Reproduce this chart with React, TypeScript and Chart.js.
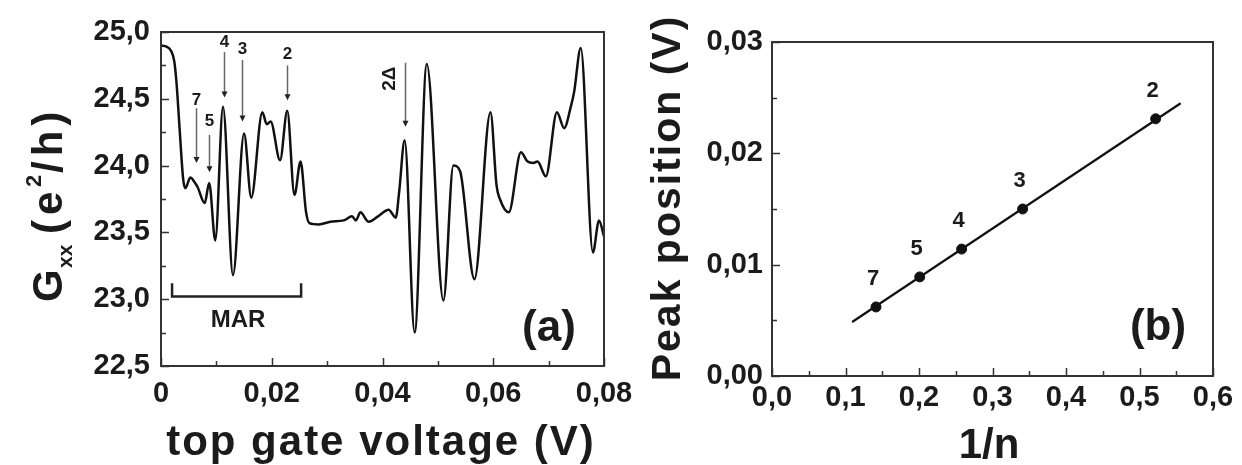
import React, { useEffect, useRef } from 'react';
import { Chart, registerables } from 'chart.js';

Chart.register(...registerables);

// ---------- Panel (a): conductance vs top gate voltage ----------
const voltage = [
  0, 0.0010, 0.0018, 0.0024, 0.0028, 0.0034, 0.0040, 0.0044,
  0.0053, 0.0060, 0.0066, 0.0079, 0.0087, 0.0098, 0.0112, 0.0130,
  0.0150, 0.0163, 0.0183, 0.0191, 0.0198, 0.0215, 0.0228, 0.0241,
  0.0252, 0.0262, 0.0268, 0.0285, 0.0306, 0.0330, 0.0345, 0.0352,
  0.0360, 0.0375, 0.0392, 0.0411, 0.0424, 0.0430, 0.0440, 0.0458,
  0.0480, 0.0510, 0.0528, 0.0540, 0.0566, 0.0595, 0.0606, 0.0612,
  0.0628, 0.0650, 0.0662, 0.0672, 0.0680, 0.0695, 0.0715, 0.0728,
  0.0740, 0.0746, 0.0758, 0.0780, 0.0791, 0.0800,
];
const conductance = [
  24.90, 24.89, 24.86, 24.78, 24.62, 24.25, 23.90, 23.83,
  23.91, 23.88, 23.84, 23.72, 23.87, 23.44, 24.44, 23.18,
  24.24, 23.76, 24.40, 24.31, 24.33, 24.04, 24.41, 23.78,
  24.03, 23.65, 23.57, 23.56, 23.58, 23.59, 23.62, 23.59,
  23.65, 23.58, 23.62, 23.67, 23.61, 23.80, 24.19, 22.75,
  24.76, 22.99, 24.00, 23.96, 23.15, 24.40, 23.85, 23.75,
  23.65, 24.10, 24.03, 24.02, 24.03, 23.92, 24.40, 24.28,
  24.44, 24.55, 24.88, 23.35, 23.59, 23.47,
];
const xTicksA = [0, 0.02, 0.04, 0.06, 0.08];
const xTickLabelsA = ['0', '0,02', '0,04', '0,06', '0,08'];
const xMinorA = [0.01, 0.03, 0.05, 0.07];
const yTicksA = [22.5, 23.0, 23.5, 24.0, 24.5, 25.0];
const yTickLabelsA = ['22,5', '23,0', '23,5', '24,0', '24,5', '25,0'];
const yMinorA = [22.75, 23.25, 23.75, 24.25, 24.75];

// MAR peak markers (label n, position, arrow top, arrow tip, label height)
const arrowLabels = ['7', '5', '4', '3', '2'];
const arrowX = [0.0063, 0.0087, 0.0113, 0.0147, 0.0228];
const arrowTop = [24.43, 24.23, 24.85, 24.79, 24.75];
const arrowTip = [24.02, 23.95, 24.51, 24.33, 24.49];
const arrowLabelY = [24.49, 24.33, 24.92, 24.87, 24.83];
const gapLabel = '2Δ';
const gapX = 0.0440;
const gapTop = 24.77;
const gapTip = 24.29;
const gapLabelX = 0.0413;
const gapLabelY = 24.65;
const marStart = 0.0020;
const marEnd = 0.0253;
const marLevel = 23.02;
const marTickTop = 23.12;
const marTextX = 0.0139;
const marTextY = 22.84;

// ---------- Panel (b): peak position vs 1/n ----------
const invN = [0.1415, 0.201, 0.258, 0.341, 0.522];
const peakPos = [0.0062, 0.0089, 0.0114, 0.0150, 0.0231];
const peakN = ['7', '5', '4', '3', '2'];
const fitX = [0.109, 0.556];
const fitY = [0.00485, 0.0245];
const xTicksB = [0, 0.1, 0.2, 0.3, 0.4, 0.5, 0.6];
const xTickLabelsB = ['0,0', '0,1', '0,2', '0,3', '0,4', '0,5', '0,6'];
const xMinorB = [0.05, 0.15, 0.25, 0.35, 0.45, 0.55];
const yTicksB = [0, 0.01, 0.02, 0.03];
const yTickLabelsB = ['0,00', '0,01', '0,02', '0,03'];
const yMinorB = [0.005, 0.015, 0.025];

const FONT = "'Liberation Sans', Arial, Helvetica, sans-serif";
const INK = '#1b1b1b';
const FRAME = '#333333';
const SPLIT = 645; // page x where the second canvas begins

function drawFrameAndTicks(chart: any, xMaj: number[], xMin: number[], yMaj: number[], yMin: number[]) {
  const { ctx, chartArea: a, scales } = chart;
  ctx.save();
  ctx.strokeStyle = FRAME;
  ctx.lineWidth = 2;
  ctx.strokeRect(a.left, a.top, a.right - a.left, a.bottom - a.top);
  ctx.lineWidth = 1.5;
  ctx.beginPath();
  const xs = (vals: number[], len: number) => vals.forEach((v) => {
    const p = Math.round(scales.x.getPixelForValue(v)) + 0.5;
    ctx.moveTo(p, a.bottom); ctx.lineTo(p, a.bottom - len);
  });
  const ys = (vals: number[], len: number) => vals.forEach((v) => {
    const p = Math.round(scales.y.getPixelForValue(v)) + 0.5;
    ctx.moveTo(a.left, p); ctx.lineTo(a.left + len, p);
  });
  xs(xMaj, 8); xs(xMin, 5); ys(yMaj, 8); ys(yMin, 5);
  ctx.stroke();
  ctx.restore();
}

function drawRotated(ctx: any, baseX: number, startY: number, segs: { t: string; size: number; shift: number; at: number; sp: number }[]) {
  ctx.save();
  ctx.translate(baseX, startY);
  ctx.rotate(-Math.PI / 2);
  ctx.fillStyle = INK;
  ctx.textBaseline = 'alphabetic';
  ctx.textAlign = 'left';
  segs.forEach((s) => {
    ctx.letterSpacing = `${s.sp}px`;
    ctx.font = `bold ${s.size}px ${FONT}`;
    ctx.fillText(s.t, s.at, s.shift);
  });
  ctx.letterSpacing = '0px';
  ctx.restore();
}

function arrow(ctx: any, x: number, y1: number, y2: number) {
  ctx.save();
  ctx.strokeStyle = '#666';
  ctx.lineWidth = 1.5;
  ctx.beginPath();
  ctx.moveTo(x, y1);
  ctx.lineTo(x, y2 - 4);
  ctx.stroke();
  ctx.fillStyle = '#222';
  ctx.beginPath();
  ctx.moveTo(x - 3, y2 - 6);
  ctx.lineTo(x + 3, y2 - 6);
  ctx.lineTo(x, y2);
  ctx.closePath();
  ctx.fill();
  ctx.restore();
}

const panelAPlugin = {
  id: 'panelA',
  afterDraw(chart: any) {
    const { ctx, chartArea: a, scales } = chart;
    const X = (v: number) => scales.x.getPixelForValue(v);
    const Y = (v: number) => scales.y.getPixelForValue(v);
    drawFrameAndTicks(chart, xTicksA, xMinorA, yTicksA, yMinorA);

    ctx.save();
    arrowLabels.forEach((lab, i) => {
      const x = Math.round(X(arrowX[i])) + 0.5;
      arrow(ctx, x, Y(arrowTop[i]), Y(arrowTip[i]));
      ctx.fillStyle = INK;
      ctx.font = `bold 17px ${FONT}`;
      ctx.textAlign = 'center';
      ctx.textBaseline = 'middle';
      ctx.fillText(lab, x, Y(arrowLabelY[i]));
    });
    const gx = Math.round(X(gapX)) + 0.5;
    arrow(ctx, gx, Y(gapTop), Y(gapTip));
    ctx.save();
    ctx.translate(X(gapLabelX), Y(gapLabelY));
    ctx.rotate(-Math.PI / 2);
    ctx.fillStyle = INK;
    ctx.font = `bold 19px ${FONT}`;
    ctx.textAlign = 'center';
    ctx.textBaseline = 'middle';
    ctx.fillText(gapLabel, 0, 0);
    ctx.restore();

    // MAR bracket
    ctx.strokeStyle = '#222';
    ctx.lineWidth = 2.5;
    ctx.beginPath();
    ctx.moveTo(X(marStart), Y(marTickTop));
    ctx.lineTo(X(marStart), Y(marLevel));
    ctx.lineTo(X(marEnd), Y(marLevel));
    ctx.lineTo(X(marEnd), Y(marTickTop));
    ctx.stroke();
    ctx.fillStyle = INK;
    ctx.font = `bold 24px ${FONT}`;
    ctx.textAlign = 'center';
    ctx.textBaseline = 'middle';
    ctx.fillText('MAR', X(marTextX), Y(marTextY));

    ctx.font = `bold 44px ${FONT}`;
    ctx.fillText('(a)', a.right - 55, a.bottom - 37);

    ctx.letterSpacing = '2px';
    ctx.font = `bold 42px ${FONT}`;
    ctx.textBaseline = 'alphabetic';
    ctx.fillText('top gate voltage (V)', 381, 455);
    ctx.letterSpacing = '0px';
    ctx.restore();

    drawRotated(ctx, 62, 302, [
      { t: 'G', size: 42, shift: 0, at: 0, sp: 0 },
      { t: 'xx', size: 21, shift: 10, at: 34, sp: 0 },
      { t: '(e', size: 42, shift: 0, at: 68, sp: 5 },
      { t: '2', size: 22, shift: -21, at: 115, sp: 0 },
      { t: '/h)', size: 42, shift: 0, at: 129, sp: 5 },
    ]);
  },
};

const panelBPlugin = {
  id: 'panelB',
  afterDraw(chart: any) {
    const { ctx, chartArea: a, scales } = chart;
    const X = (v: number) => scales.x.getPixelForValue(v);
    const Y = (v: number) => scales.y.getPixelForValue(v);
    drawFrameAndTicks(chart, xTicksB, xMinorB, yTicksB, yMinorB);
    ctx.save();
    ctx.fillStyle = INK;
    ctx.font = `bold 22px ${FONT}`;
    ctx.textAlign = 'center';
    ctx.textBaseline = 'middle';
    peakN.forEach((n, i) => {
      ctx.fillText(n, X(invN[i]) - 3, Y(peakPos[i]) - 28);
    });
    ctx.font = `bold 44px ${FONT}`;
    ctx.fillText('(b)', a.right - 55, a.bottom - 48);

    ctx.font = `bold 42px ${FONT}`;
    ctx.textBaseline = 'alphabetic';
    ctx.fillText('1/n', 989 - SPLIT, 458);
    ctx.restore();

    ctx.save();
    ctx.translate(680 - SPLIT, 198);
    ctx.rotate(-Math.PI / 2);
    ctx.fillStyle = INK;
    ctx.letterSpacing = '2px';
    ctx.font = `bold 41px ${FONT}`;
    ctx.textAlign = 'center';
    ctx.textBaseline = 'alphabetic';
    ctx.fillText('Peak position (V)', 0, 0);
    ctx.letterSpacing = '0px';
    ctx.restore();
  },
};

function tickFont() {
  return { family: FONT, size: 29, weight: 'bold' as const };
}

function fixX(height: number) {
  return (s: any) => {
    s.height = height;
    s.paddingLeft = 0;
    s.paddingRight = 0;
  };
}
function fixY(width: number) {
  return (s: any) => {
    s.width = width;
    s.paddingTop = 0;
    s.paddingBottom = 0;
  };
}

export default function App() {
  const refA = useRef<HTMLCanvasElement>(null);
  const refB = useRef<HTMLCanvasElement>(null);

  useEffect(() => {
    const chartA = new Chart(refA.current as HTMLCanvasElement, {
      type: 'line',
      data: {
        datasets: [
          {
            data: voltage.map((v, i) => ({ x: v, y: conductance[i] })),
            borderColor: '#111',
            borderWidth: 2.5,
            pointRadius: 0,
            cubicInterpolationMode: 'monotone',
            fill: false,
          },
        ],
      },
      options: {
        animation: false,
        responsive: false,
        maintainAspectRatio: false,
        layout: { padding: { left: 0, right: SPLIT - 604, top: 32, bottom: 0 } },
        plugins: { legend: { display: false }, tooltip: { enabled: false } },
        scales: {
          x: {
            type: 'linear',
            min: 0,
            max: 0.08,
            grid: { display: false, drawTicks: false },
            border: { display: false },
            afterBuildTicks: (s: any) => { s.ticks = xTicksA.map((v) => ({ value: v })); },
            afterFit: fixX(99),
            ticks: {
              autoSkip: false,
              maxRotation: 0,
              padding: 11,
              color: INK,
              font: tickFont(),
              callback: (_v: any, i: number) => xTickLabelsA[i],
            },
          },
          y: {
            type: 'linear',
            min: 22.5,
            max: 25,
            grid: { display: false, drawTicks: false },
            border: { display: false },
            afterBuildTicks: (s: any) => { s.ticks = yTicksA.map((v) => ({ value: v })); },
            afterFit: fixY(161),
            ticks: {
              autoSkip: false,
              padding: 11,
              color: INK,
              font: tickFont(),
              callback: (_v: any, i: number) => yTickLabelsA[i],
            },
          },
        },
      } as any,
      plugins: [panelAPlugin],
    });

    const chartB = new Chart(refB.current as HTMLCanvasElement, {
      type: 'line',
      data: {
        datasets: [
          {
            data: fitX.map((v, i) => ({ x: v, y: fitY[i] })),
            borderColor: '#111',
            borderWidth: 2.2,
            pointRadius: 0,
            fill: false,
          },
          {
            data: invN.map((v, i) => ({ x: v, y: peakPos[i] })),
            showLine: false,
            pointRadius: 5,
            pointBackgroundColor: '#111',
            pointBorderColor: '#111',
            fill: false,
          },
        ],
      },
      options: {
        animation: false,
        responsive: false,
        maintainAspectRatio: false,
        layout: { padding: { left: 0, right: 29, top: 42, bottom: 0 } },
        plugins: { legend: { display: false }, tooltip: { enabled: false } },
        scales: {
          x: {
            type: 'linear',
            min: 0,
            max: 0.6,
            grid: { display: false, drawTicks: false },
            border: { display: false },
            afterBuildTicks: (s: any) => { s.ticks = xTicksB.map((v) => ({ value: v })); },
            afterFit: fixX(89),
            ticks: {
              autoSkip: false,
              maxRotation: 0,
              padding: 5,
              color: INK,
              font: tickFont(),
              callback: (_v: any, i: number) => xTickLabelsB[i],
            },
          },
          y: {
            type: 'linear',
            min: 0,
            max: 0.03,
            grid: { display: false, drawTicks: false },
            border: { display: false },
            afterBuildTicks: (s: any) => { s.ticks = yTicksB.map((v) => ({ value: v })); },
            afterFit: fixY(772 - SPLIT),
            ticks: {
              autoSkip: false,
              padding: 9,
              color: INK,
              font: tickFont(),
              callback: (_v: any, i: number) => yTickLabelsB[i],
            },
          },
        },
      } as any,
      plugins: [panelBPlugin],
    });

    return () => {
      chartA.destroy();
      chartB.destroy();
    };
  }, []);

  return (
    <div style={{ position: 'absolute', left: 0, top: 0, width: 1242, height: 465, background: '#fff', overflow: 'hidden' }}>
      <canvas ref={refA} width={SPLIT} height={465} style={{ position: 'absolute', left: 0, top: 0, width: SPLIT, height: 465 }} />
      <canvas ref={refB} width={1242 - SPLIT} height={465} style={{ position: 'absolute', left: SPLIT, top: 0, width: 1242 - SPLIT, height: 465 }} />
    </div>
  );
}
